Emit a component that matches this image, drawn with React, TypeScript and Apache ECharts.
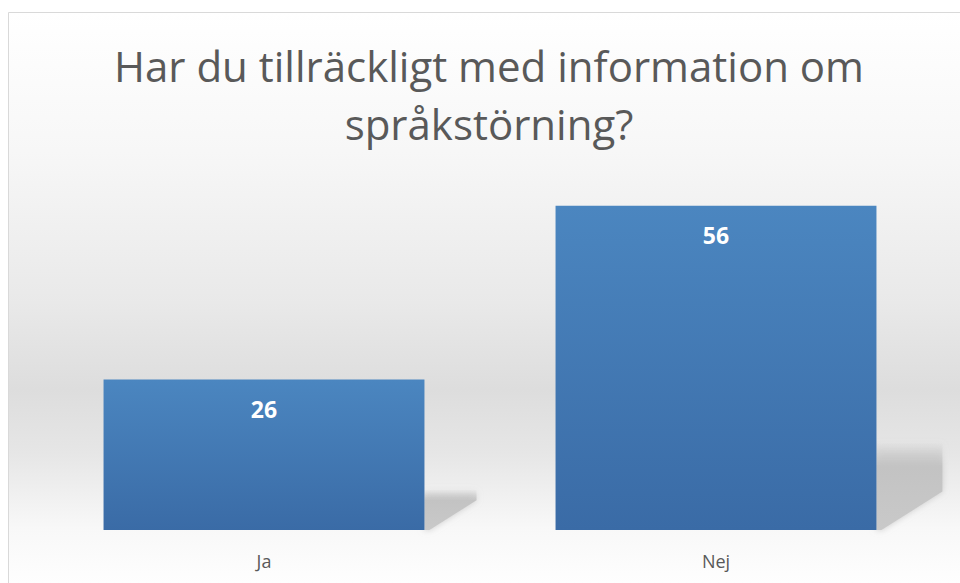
import React, { useEffect, useRef } from "react";
import * as echarts from "echarts";

const titleLines = ["Har du tillräckligt med information om", "språkstörning?"];
const categories = ["Ja", "Nej"];
const values = [26, 56];
const yMin = 0;
const yMax = 60;

const FONT = "'Open Sans', 'Noto Sans', sans-serif";

export default function App() {
  const ref = useRef<HTMLDivElement>(null);

  useEffect(() => {
    if (!ref.current) return;
    const chart = echarts.init(ref.current, null, { renderer: "svg" });

    const barGap = 0.29;

    const option: any = {
      animation: false,
      textStyle: { fontFamily: FONT },
      title: {
        text: titleLines.join("\n"),
        left: 489,
        textAlign: "center",
        top: 36,
        padding: 0,
        textStyle: {
          fontFamily: FONT,
          fontSize: 42,
          fontWeight: "normal",
          color: "#595959",
          lineHeight: 58,
        },
      },
      graphic: [
        {
          type: "rect",
          silent: true,
          z: -10,
          shape: { x: 8.5, y: 12.5, width: 1000, height: 580 },
          style: {
            stroke: "#d9d9d9",
            lineWidth: 1,
            fill: new echarts.graphic.LinearGradient(0, 0, 0, 1, [
              { offset: 0, color: "#ffffff" },
              { offset: 0.24, color: "#f7f7f7" },
              { offset: 0.5, color: "#e9e9e9" },
              { offset: 0.65, color: "#dddddd" },
              { offset: 0.76, color: "#e6e6e6" },
              { offset: 0.89, color: "#f8f8f8" },
              { offset: 1, color: "#ffffff" },
            ]),
          },
        },
      ],
      grid: { left: 38, right: 18, top: 182.6, bottom: 53, containLabel: false },
      xAxis: {
        type: "category",
        data: categories,
        axisLine: { show: false },
        axisTick: { show: false },
        axisLabel: { color: "#595959", fontSize: 18, margin: 22, fontFamily: FONT },
      },
      yAxis: {
        type: "value",
        min: yMin,
        max: yMax,
        show: false,
        splitLine: { show: false },
      },
      series: [
        {
          type: "custom",
          silent: true,
          z: 1,
          data: values.map((v, i) => [i, v]),
          encode: { x: 0, y: 1 },
          renderItem: (params: any, api: any) => {
            const idx = api.value(0);
            const v = api.value(1);
            const top = api.coord([idx, v]);
            const base = api.coord([idx, 0]);
            const band = api.size([1, 0])[0];
            const half = (band * (1 - barGap)) / 2;
            const xr = base[0] + half;
            const yb = base[1];
            const h = yb - top[1];
            const w = 40 + 0.08 * h;
            const shTop = yb - 0.27 * h;
            const diagY = Math.max(yb - 0.63 * (w - 5), shTop);
            return {
              type: "polygon",
              shape: {
                points: [
                  [xr, shTop],
                  [xr + w, shTop],
                  [xr + w, diagY],
                  [xr + 5, yb],
                  [xr, yb],
                ],
              },
              style: {
                fill: new echarts.graphic.LinearGradient(0, 0, 0, 1, [
                  { offset: 0, color: "rgba(200,200,200,0)" },
                  { offset: 0.28, color: "#c3c3c3" },
                  { offset: 1, color: "#c9c9c9" },
                ]),
                shadowBlur: 6,
                shadowColor: "rgba(195,195,195,0.8)",
              },
            };
          },
        },
        {
          type: "bar",
          z: 2,
          data: values,
          barCategoryGap: barGap * 100 + "%",
          itemStyle: {
            color: new echarts.graphic.LinearGradient(0, 0, 0, 1, [
              { offset: 0, color: "#4b86c0" },
              { offset: 1, color: "#3a6ba6" },
            ]),
          },
          label: {
            show: true,
            position: "insideTop",
            distance: 18,
            color: "#ffffff",
            fontWeight: "bold",
            fontSize: 23,
            fontFamily: FONT,
          },
        },
      ],
    };

    chart.setOption(option);
    return () => chart.dispose();
  }, []);

  return (
    <div
      ref={ref}
      style={{ position: "absolute", left: 0, top: 0, width: 960, height: 583 }}
    />
  );
}
